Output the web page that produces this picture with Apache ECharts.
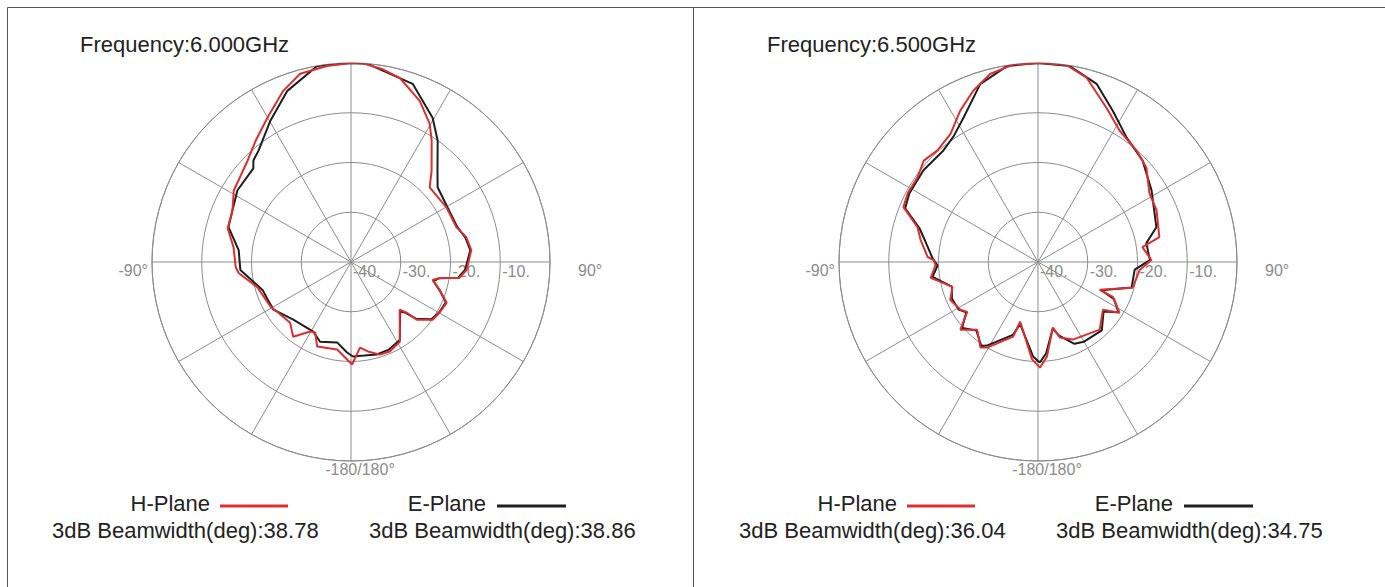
<!DOCTYPE html>
<html><head><meta charset="utf-8">
<script src="https://cdn.jsdelivr.net/npm/echarts@6/dist/echarts.min.js"></script>
<style>html,body{margin:0;padding:0;background:#fff}#c{width:1385px;height:587px}</style>
</head><body><div id="c"></div>
<script>
const frequencies = ['Frequency:6.000GHz', 'Frequency:6.500GHz'];
const seriesNames = ['H-Plane', 'E-Plane'];
const beamwidths = [[38.78, 38.86], [36.04, 34.75]];
const radiusMin = -40, radiusMax = 0, radiusStep = 10;

// [angle in degrees (0 = top, clockwise), level in dB]
const h6000 = [[-177.7,-20.4],[-171,-22.2],[-158.2,-21.7],[-153.1,-24.1],[-149.6,-23.8],[-142.3,-21.0],[-135,-22.7],[-124,-22.1],[-119.1,-21.5],[-105,-20.5],[-95.6,-17.3],[-92.5,-16.8],[-82.8,-16.2],[-74.7,-14.3],[-66.4,-14.0],[-58.6,-12.4],[-45.6,-10.9],[-38.2,-9.0],[-30.1,-6.5],[-21.6,-3.0],[-15.1,-0.8],[-7,-0.3],[0,0],[3.4,0],[9.1,-0.7],[14.8,-1.7],[23.1,-4.8],[29.6,-8.0],[33.6,-10.7],[41.4,-15.5],[46.5,-18.2],[60.2,-17.9],[71.7,-17.7],[77.8,-16.3],[84.3,-15.7],[93.9,-16.7],[98.4,-18.0],[100.2,-21.9],[102.4,-23.2],[107.5,-21.3],[113.1,-19.1],[119.8,-19.5],[125.3,-19.9],[131.3,-22.4],[132.3,-24.9],[134.4,-26.3],[148.5,-21.2],[156.6,-20.4],[162.7,-20.5],[169.3,-21.7],[174,-22.7],[179.4,-19.4],[182.3,-20.4]];
const e6000 = [[-177.5,-21.8],[-170.2,-23.6],[-158.8,-22.8],[-151.5,-24.1],[-135,-23.6],[-121.6,-21.7],[-113,-21.6],[-108,-21.4],[-104,-20.6],[-94.1,-17.7],[-84,-17.3],[-74.1,-14.4],[-66.4,-14.0],[-57.7,-13.0],[-46.2,-12.8],[-43.9,-11.7],[-39.7,-10.9],[-29.7,-7.3],[-20.4,-3.3],[-9.8,0],[0,0],[4.6,0],[19.1,-2.1],[29.5,-6.7],[35.5,-10.0],[43.4,-14.7],[49.2,-17.0],[60.4,-17.7],[71.7,-17.5],[78,-16.5],[84.3,-15.9],[93.9,-17.0],[98.4,-18.2],[100.5,-22.0],[103,-23.0],[108,-21.2],[113,-19.3],[120,-19.6],[125.5,-20.2],[131,-22.6],[133,-25.0],[135,-26.0],[148,-21.5],[157,-20.8],[164.4,-20.7],[172,-21.0],[178.8,-21.0],[182.5,-21.8]];
const h6500 = [[-176.5,-20.4],[-163.3,-27.5],[-161.6,-24.2],[-149.3,-20.0],[-146,-19.3],[-138.1,-21.7],[-131.1,-19.3],[-125.2,-22.6],[-121.6,-21.7],[-113.4,-20.8],[-106.2,-22.1],[-98.4,-18.2],[-91.7,-19.4],[-88.9,-19.0],[-87.4,-17.8],[-79.4,-16.0],[-73.9,-14.8],[-67.8,-10.8],[-62.2,-10.4],[-54.9,-10.4],[-48.4,-9.3],[-42,-9.8],[-34.3,-8.8],[-27.2,-5.8],[-20.7,-3.2],[-14.3,-1.0],[-7.2,0],[0.6,0],[8.3,0],[14.8,-1.7],[24,-6.1],[31.8,-8.9],[41.5,-10.1],[48.9,-11.1],[58.4,-13.7],[66.4,-14.0],[78.4,-15.1],[81.9,-18.8],[89,-17.2],[94.5,-19.5],[105.3,-20.3],[114.3,-26.4],[115,-23.4],[121.9,-20.7],[126.4,-23.8],[137.6,-21.6],[155.8,-22.9],[163.9,-24.2],[167.2,-26.5],[174.6,-20.9],[178.9,-18.8],[183.5,-20.4]];
const e6500 = [[-177,-21.0],[-164,-27.0],[-161,-24.5],[-149,-20.5],[-146,-19.6],[-138,-21.5],[-131,-19.8],[-125,-22.4],[-121,-21.4],[-113,-21.2],[-106,-22.0],[-98,-18.6],[-92,-19.8],[-88,-18.8],[-79,-16.8],[-74,-15.2],[-68,-11.2],[-62,-10.7],[-51.3,-10.5],[-40.3,-10.6],[-34,-9.6],[-27.4,-7.4],[-18,-2.4],[-8.9,-0.1],[0,0],[9.2,-0.1],[18.2,-2.3],[26.3,-6.1],[35.5,-9.3],[45.8,-10.7],[57.7,-13.0],[73.6,-15.2],[80.1,-17.9],[89,-17.5],[94.5,-20.5],[105.3,-20.5],[114,-26.0],[116,-23.0],[122,-20.9],[127,-23.5],[137,-21.2],[150,-21.5],[156,-22.0],[164,-24.6],[167.5,-26.3],[175,-21.5],[179,-19.8],[183,-21.0]];

const panels = [
  { cx: 351, cy: 262, h: h6000, e: e6000 },
  { cx: 1038, cy: 262, h: h6500, e: e6500 }
];
const FONT = 'Liberation Sans, Arial, sans-serif';
const GRID = '#8c8c8c';
const RED = '#dc2f2f', BLACK = '#1e1e1e';

function toAxisAngle(a) { let v = ((a % 360) + 360) % 360; return v < 90 ? v + 360 : v; }
function mapData(arr) { return arr.map(p => [p[1], toAxisAngle(p[0])]); }

const polar = [], angleAxis = [], radiusAxis = [], series = [], graphic = [];
panels.forEach((p, i) => {
  polar.push({ center: [p.cx, p.cy], radius: 199 });
  angleAxis.push({
    polarIndex: i, type: 'value', min: 90, max: 450, interval: 30, startAngle: 0, clockwise: true,
    axisLine: { show: true, lineStyle: { color: GRID, width: 1 } },
    axisTick: { show: false },
    splitLine: { show: true, lineStyle: { color: GRID, width: 1 } },
    axisLabel: {
      show: true, margin: 0, fontFamily: FONT, fontSize: 16, color: '#8c8c8c',
      formatter: v => v === 270 ? '{l|-90°}' : v === 90 ? '{r|90°}' : v === 180 ? '{b|-180/180°}' : '',
      rich: {
        l: { padding: [16, 4, 0, 0], fontFamily: FONT, fontSize: 16, color: '#8c8c8c' },
        r: { padding: [16, 0, 0, 28], fontFamily: FONT, fontSize: 16, color: '#8c8c8c' },
        b: { padding: [0, 0, 0, 18], fontFamily: FONT, fontSize: 16, color: '#8c8c8c' }
      }
    }
  });
  radiusAxis.push({
    polarIndex: i, type: 'value', min: radiusMin, max: radiusMax, interval: radiusStep,
    axisLine: { show: false }, axisTick: { show: false },
    splitLine: { show: true, lineStyle: { color: GRID, width: 1 } },
    axisLabel: {
      show: true, margin: 0, align: 'left', verticalAlign: 'top', padding: [1, 0, 0, 2],
      fontFamily: FONT, fontSize: 16, color: '#8c8c8c',
      formatter: v => v === radiusMax ? '' : v + '.'
    }
  });
  series.push({
    name: seriesNames[1], type: 'line', coordinateSystem: 'polar', polarIndex: i,
    data: mapData(p.e), symbol: 'none', smooth: false,
    lineStyle: { color: BLACK, width: 2 }, silent: true, animation: false
  });
  series.push({
    name: seriesNames[0], type: 'line', coordinateSystem: 'polar', polarIndex: i,
    data: mapData(p.h), symbol: 'none', smooth: false,
    lineStyle: { color: RED, width: 2 }, silent: true, animation: false
  });
  const ox = i * 687;
  const f = '22px ' + FONT;
  graphic.push({ type: 'text', left: 80 + ox, top: 33, style: { text: frequencies[i], font: f, fill: '#222' } });
  graphic.push({ type: 'text', x: 210 + ox, y: 503, style: { text: seriesNames[0], font: f, fill: '#222', textAlign: 'right', textVerticalAlign: 'middle' } });
  graphic.push({ type: 'line', shape: { x1: 220 + ox, y1: 506, x2: 288 + ox, y2: 506 }, style: { stroke: RED, lineWidth: 3 } });
  graphic.push({ type: 'text', x: 486 + ox, y: 503, style: { text: seriesNames[1], font: f, fill: '#222', textAlign: 'right', textVerticalAlign: 'middle' } });
  graphic.push({ type: 'line', shape: { x1: 497 + ox, y1: 506, x2: 566 + ox, y2: 506 }, style: { stroke: BLACK, lineWidth: 3 } });
  graphic.push({ type: 'text', x: 52 + ox, y: 530, style: { text: '3dB Beamwidth(deg):' + beamwidths[i][0].toFixed(2), font: f, fill: '#222', textVerticalAlign: 'middle' } });
  graphic.push({ type: 'text', x: 369 + ox, y: 530, style: { text: '3dB Beamwidth(deg):' + beamwidths[i][1].toFixed(2), font: f, fill: '#222', textVerticalAlign: 'middle' } });
});
// panel frame
graphic.push({ type: 'polyline', shape: { points: [[7.5, 600], [7.5, 7.5], [1390, 7.5]] }, style: { stroke: '#555', lineWidth: 1, fill: null } });
graphic.push({ type: 'line', shape: { x1: 693.5, y1: 7.5, x2: 693.5, y2: 600 }, style: { stroke: '#555', lineWidth: 1 } });

const chart = echarts.init(document.getElementById('c'), null, { renderer: 'svg' });
chart.setOption({ backgroundColor: '#fff', animation: false, polar, angleAxis, radiusAxis, series, graphic });
</script></body></html>
